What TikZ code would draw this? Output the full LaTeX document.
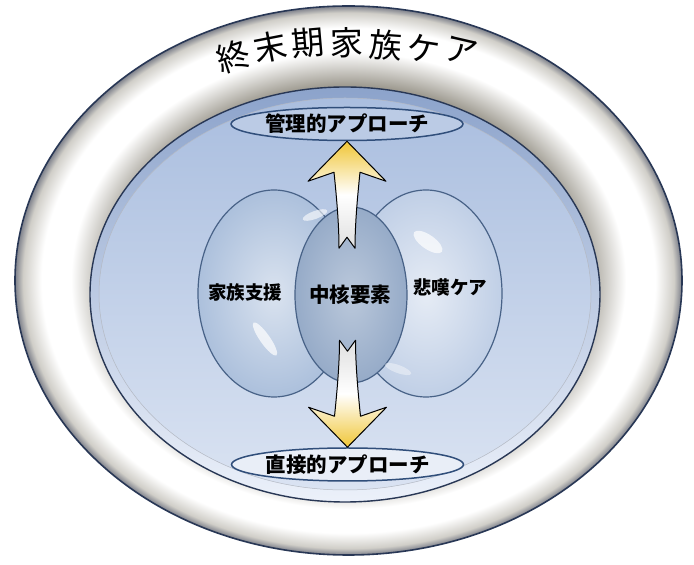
\documentclass[tikz,border=0pt]{standalone}
\usepackage{fontspec}
\newfontfamily\jpfont{Noto Sans CJK JP}
\usetikzlibrary{shapes.geometric}
\definecolor{ringedge}{RGB}{125,128,138}
\definecolor{ringmid}{RGB}{208,206,200}
\definecolor{ringshadow}{RGB}{150,146,135}
\definecolor{rimline}{RGB}{40,55,85}
\definecolor{plateTop}{RGB}{140,163,203}
\definecolor{plateBot}{RGB}{236,241,250}
\definecolor{dishTop}{RGB}{170,190,223}
\definecolor{dishBot}{RGB}{218,227,242}
\definecolor{orbline}{RGB}{72,98,135}
\definecolor{orbleft}{RGB}{172,192,220}
\definecolor{orbright}{RGB}{192,207,230}
\definecolor{corefill}{RGB}{150,171,200}
\definecolor{lblline}{RGB}{48,78,122}
\definecolor{arrowgold}{RGB}{240,198,55}
\pgfdeclareradialshading{ringshade}{\pgfpoint{0bp}{0bp}}{color(0bp)=(ringshadow); color(17.5bp)=(ringshadow); color(20.8bp)=(white); color(23bp)=(white); color(24.4bp)=(ringmid); color(25bp)=(ringedge); color(50bp)=(ringedge)}
\newcommand{\blockarrow}[3]{\shade[shift={(#1)},yscale=#2,draw=black,line width=1pt,line join=round,#3]
  (0,0) -- (39,-40) -- (13,-31) .. controls (10,-60) and (8,-85) .. (8,-107) -- (0,-96) -- (-8,-107) .. controls (-8,-85) and (-10,-60) .. (-13,-31) -- (-39,-40) -- cycle;}
\newcommand{\gloss}[5]{\fill[white,opacity=#5,rotate around={#4:(#1,#2)}] (#1,#2) ellipse (#3);}

\begin{document}
\begin{tikzpicture}[x=1pt,y=1pt,
  orb/.style={ellipse,draw=orbline,line width=1.2pt,inner sep=0pt,shade},
  lbl/.style={ellipse,draw=lblline,line width=1.5pt,minimum width=221pt,minimum height=33pt,inner sep=0pt,
    font=\jpfont\bfseries\fontsize{20.5}{20.5}\selectfont},
  txt/.style={font=\jpfont\bfseries\fontsize{18.5}{18.5}\selectfont,inner sep=0pt},
  titlechar/.style={font=\jpfont\fontsize{33}{33}\selectfont,inner sep=0pt}]
  \useasboundingbox (0,0) rectangle (694,565);
  \node[ellipse,minimum width=667pt,minimum height=549pt,inner sep=0pt,shade,shading=ringshade,draw=rimline,line width=1.6pt] (ring) at (348.5,284.5) {};
  \node[ellipse,minimum width=510pt,minimum height=415pt,inner sep=0pt,top color=plateTop,bottom color=plateBot,draw=rimline,line width=1.4pt] (plate) at (345,270.5) {};
  \node[ellipse,minimum width=492pt,minimum height=392pt,inner sep=0pt,top color=dishTop,bottom color=dishBot,draw=rimline!35,line width=0.5pt] (dish) at (345,271) {};
  \foreach \ch/\px/\py/\rot [count=\i] in {終/233/508/18,末/270/518/11,期/308/522/5,家/347/522/1,族/386/520/-4,ケ/424/516/-9,ア/461/514/-13}
    \node[titlechar,rotate=\rot] (ttl\i) at (\px,\py) {\ch};
  \node[orb,minimum width=152pt,minimum height=207pt,inner color=orbleft!45!white,outer color=orbleft] (famorb) at (274,271.5) {};
  \node[orb,minimum width=152pt,minimum height=207pt,inner color=orbright!40!white,outer color=orbright] (grieforb) at (426,271.5) {};
  \node[orb,minimum width=112pt,minimum height=176pt,inner color=corefill!65!white,outer color=corefill] (core) at (351,270) {};
  \gloss{315}{350}{13 and 4}{20}{0.6}
  \gloss{265}{226}{20 and 5}{-55}{0.7}
  \gloss{428}{323}{17 and 7}{-35}{0.7}
  \gloss{398}{196}{14 and 4}{-20}{0.4}
  \node[txt] (famtxt) at (245,273) {家族支援};
  \node[txt,font=\jpfont\bfseries\fontsize{20.5}{20.5}\selectfont] (coretxt) at (350,270) {中核要素};
  \node[txt] (grieftxt) at (450,277) {悲嘆ケア};
  \node[lbl,fill=dishTop!80!white] (mgmt) at (347,441) {管理的アプローチ};
  \node[lbl,fill=dishBot!60!white] (direct) at (347.5,100.5) {直接的アプローチ};
  \blockarrow{mgmt.south}{1}{top color=arrowgold,bottom color=gray!25,middle color=white}
  \blockarrow{direct.north}{-1}{top color=gray!25,bottom color=arrowgold,middle color=white}
\end{tikzpicture}
\end{document}
